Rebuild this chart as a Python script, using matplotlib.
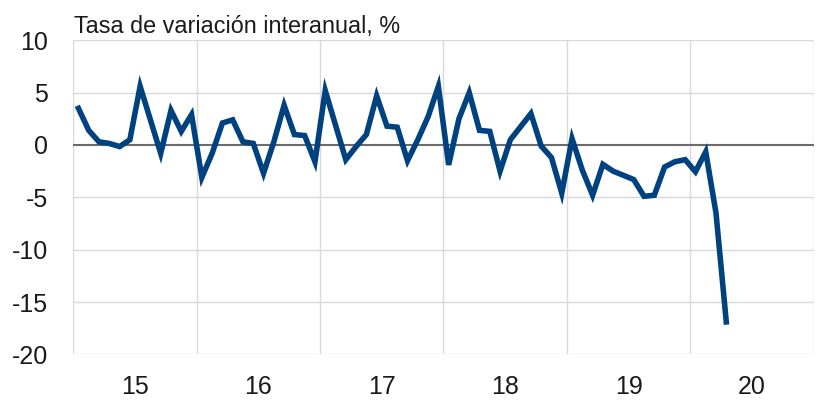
import matplotlib
matplotlib.use("Agg")
import matplotlib.pyplot as plt
import numpy as np

years = [15, 16, 17, 18, 19, 20]
values = [
    # 2015
    3.5, 1.4, 0.3, 0.15, -0.15, 0.5, 5.6, 2.4, -0.8, 3.3, 1.3, 2.9,
    # 2016
    -3.1, -0.8, 2.1, 2.4, 0.3, 0.15, -2.7, 0.3, 3.8, 1.0, 0.9, -1.6,
    # 2017
    5.2, 1.9, -1.4, -0.15, 1.0, 4.7, 1.8, 1.7, -1.5, 0.5, 2.7, 5.6,
    # 2018
    -1.9, 2.5, 5.0, 1.4, 1.3, -2.5, 0.5, 1.75, 3.0, -0.1, -1.2, -4.6,
    # 2019
    0.6, -2.4, -4.8, -1.85, -2.5, -2.9, -3.3, -4.9, -4.8, -2.1, -1.6, -1.4,
    # 2020
    -2.55, -0.65, -6.5, -16.9,
]
y_ticks = [10, 5, 0, -5, -10, -15, -20]
title = "Tasa de variación interanual, %"

plt.rcParams['font.family'] = ['Liberation Sans', 'DejaVu Sans']

fig = plt.figure(figsize=(8.17, 4.04), dpi=100)
ax = fig.add_axes([73.3/817, 1-354.4/404, (813.7-73.3)/817, (354.4-40.3)/404])

x = 2015 + (np.arange(len(values)) + 0.5) / 12.0
ax.set_xlim(2015, 2021)
ax.set_ylim(-20, 10)

grid_c = '#d9d9d9'
for yv in y_ticks:
    if yv != 0:
        ax.axhline(yv, color=grid_c, lw=1.0, zorder=1)
for yr in range(2015, 2022):
    ax.axvline(yr, color=grid_c, lw=1.0, zorder=1)
ax.axhline(0, color='#6b6b6b', lw=1.5, zorder=2)

ax.plot(x, values, color='#00417f', lw=4.0, solid_joinstyle='miter', zorder=3)

for s in ax.spines.values():
    s.set_visible(False)

ax.set_yticks(y_ticks)
ax.set_yticklabels([str(v) for v in y_ticks])
ax.set_xticks([2015 + i + 0.5 for i in range(len(years))])
ax.set_xticklabels([str(v) for v in years])
ax.tick_params(axis='both', length=0, labelsize=18, colors='#1a1a1a')
ax.tick_params(axis='y', pad=18)
ax.tick_params(axis='x', pad=15)

fig.text(73.5/817, 1-33.3/404, title, fontsize=16.8, color='#1a1a1a', va='baseline', ha='left')

fig.savefig('out.png', dpi=100)
